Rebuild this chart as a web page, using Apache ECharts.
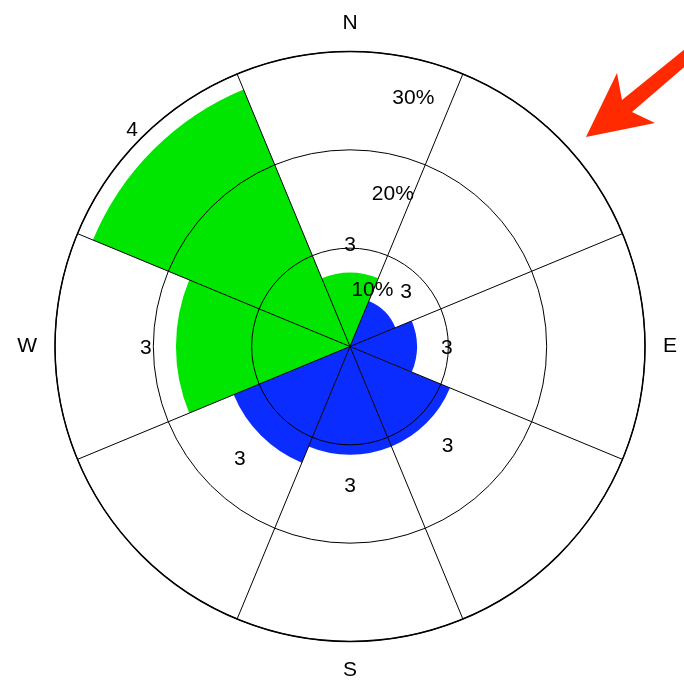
<!DOCTYPE html>
<html>
<head>
<meta charset="utf-8">
<script src="https://cdn.jsdelivr.net/npm/echarts@6/dist/echarts.min.js"></script>
<style>
html,body{margin:0;padding:0;background:#fff;}
#chart{width:684px;height:684px;}
</style>
</head>
<body>
<div id="chart"></div>
<script>
// ---- data ----
const directions = ['N', 'NE', 'E', 'SE', 'S', 'SW', 'W', 'NW'];
const frequencies = [7.5, 5.0, 6.8, 11.0, 11.0, 12.8, 17.7, 28.3];   // percent
const classes = ['g', 'b', 'b', 'b', 'b', 'b', 'g', 'g'];
const countLabels = ['3', '3', '3', '3', '3', '3', '3', '4'];
const radiusTicks = [10, 20, 30];

// ---- styles ----
const colorMap = { g: '#00e600', b: '#0b2cff' };
const FONT = 'Liberation Sans, Arial, Helvetica, sans-serif';
const tickLabelAngle = 12;

const chart = echarts.init(document.getElementById('chart'));
chart.setOption({
  backgroundColor: '#fff',
  animation: false,
  polar: [
    { center: [350, 346.5], radius: 295 },
    { center: [350, 346.5], radius: 295 }
  ],
  angleAxis: [
    {
      polarIndex: 0,
      type: 'category',
      data: directions,
      startAngle: 112.5,
      clockwise: true,
      boundaryGap: true,
      z: 5,
      axisLine: { show: true, lineStyle: { color: '#000', width: 1.5 } },
      axisTick: { show: false, interval: 0 },
      axisLabel: {
        show: true, interval: 0, margin: 18, fontSize: 21, color: '#000', fontFamily: FONT,
        formatter: v => (v.length === 1 ? v : '')
      },
      splitLine: { show: true, interval: 0, lineStyle: { color: '#000', width: 1 } }
    },
    {
      polarIndex: 1,
      type: 'value',
      min: 0, max: 360,
      startAngle: 90,
      clockwise: true,
      show: false
    }
  ],
  radiusAxis: [
    {
      polarIndex: 0,
      type: 'value',
      min: 0, max: 30, interval: 10,
      z: 5,
      axisLine: { show: false },
      axisTick: { show: false },
      axisLabel: { show: false },
      splitLine: { show: true, lineStyle: { color: '#000', width: 1 } }
    },
    {
      polarIndex: 1,
      type: 'value',
      min: 0, max: 30,
      show: false
    }
  ],
  series: [
    {
      type: 'bar',
      coordinateSystem: 'polar',
      polarIndex: 0,
      barCategoryGap: '0%',
      z: 2,
      data: frequencies.map((v, i) => ({
        value: v,
        itemStyle: { color: colorMap[classes[i]] }
      })),
      label: {
        show: true,
        position: 'end',
        distance: 30,
        rotate: 0,
        align: 'center',
        verticalAlign: 'middle',
        offset: [0, 2],
        fontSize: 21,
        color: '#000',
        fontFamily: FONT,
        formatter: p => countLabels[p.dataIndex]
      }
    },
    {
      type: 'scatter',
      coordinateSystem: 'polar',
      polarIndex: 1,
      symbolSize: 0,
      z: 10,
      itemStyle: { opacity: 1 },
      data: radiusTicks.map(v => [v, tickLabelAngle]),
      label: {
        show: true,
        position: 'inside',
        offset: [2, 40],
        fontSize: 21,
        color: '#000',
        opacity: 1,
        fontFamily: FONT,
        formatter: p => p.value[0] + '%'
      }
    }
  ],
  graphic: [
    {
      type: 'polygon',
      z: 100,
      shape: {
        points: [[586, 137], [617, 73], [622, 100], [690, 45], [690, 62], [632, 112], [655, 123]]
      },
      style: { fill: '#ff2a00' }
    }
  ]
});
</script>
</body>
</html>
